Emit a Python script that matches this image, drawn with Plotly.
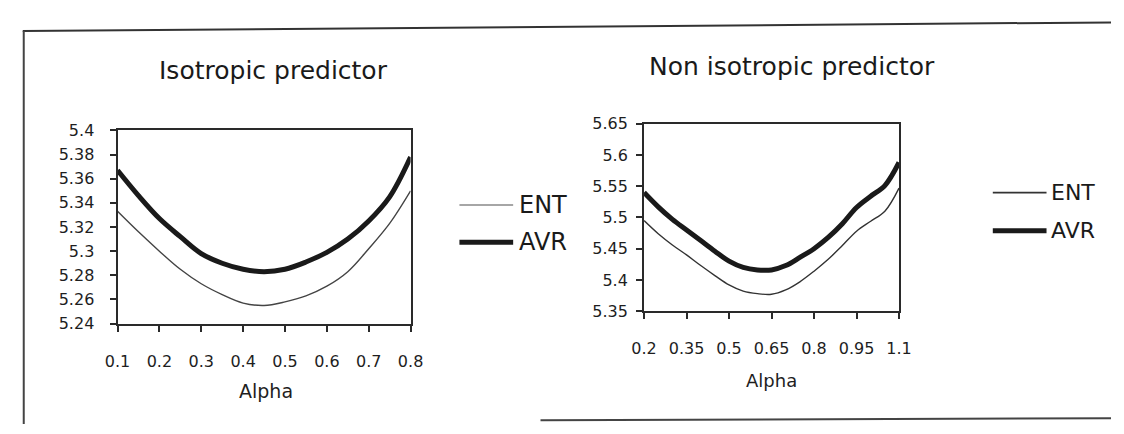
import plotly.graph_objects as go

# ---------------- data ----------------
alpha_iso = [0.1, 0.15, 0.2, 0.25, 0.3, 0.35, 0.4, 0.45, 0.5, 0.55, 0.6, 0.65, 0.7, 0.75, 0.8]
ent_iso = [5.333, 5.316, 5.300, 5.285, 5.273, 5.264, 5.257, 5.255, 5.258, 5.263, 5.271, 5.283, 5.302, 5.323, 5.350]
avr_iso = [5.367, 5.346, 5.327, 5.312, 5.298, 5.290, 5.285, 5.283, 5.285, 5.291, 5.299, 5.310, 5.325, 5.345, 5.378]

alpha_non = [0.2, 0.25, 0.3, 0.35, 0.4, 0.45, 0.5, 0.55, 0.6, 0.65, 0.7, 0.75, 0.8, 0.85, 0.9, 0.95, 1.0, 1.05, 1.1]
ent_non = [5.495, 5.474, 5.456, 5.440, 5.423, 5.407, 5.392, 5.382, 5.378, 5.377, 5.384, 5.397, 5.414, 5.433, 5.455, 5.478, 5.494, 5.510, 5.547]
avr_non = [5.540, 5.517, 5.497, 5.480, 5.463, 5.446, 5.430, 5.420, 5.416, 5.416, 5.423, 5.436, 5.450, 5.468, 5.490, 5.516, 5.534, 5.551, 5.588]

iso_xticks = [0.1, 0.2, 0.3, 0.4, 0.5, 0.6, 0.7, 0.8]
iso_yticks = [5.24, 5.26, 5.28, 5.3, 5.32, 5.34, 5.36, 5.38, 5.4]
non_xticks = [0.2, 0.35, 0.5, 0.65, 0.8, 0.95, 1.1]
non_yticks = [5.35, 5.4, 5.45, 5.5, 5.55, 5.6, 5.65]

titles = ["Isotropic predictor", "Non isotropic predictor"]
series_names = ["ENT", "AVR"]
x_title = "Alpha"

# ---------------- figure ----------------
W, H = 1124, 434
FONT = "DejaVu Sans, Verdana, sans-serif"
INK = "#2a2a2a"
TXT = "#1e1e1e"


def px(x):
    return x / W


def py(y):
    return 1 - y / H


fig = go.Figure()
fig.add_trace(go.Scatter(x=alpha_iso, y=ent_iso, mode="lines", line=dict(color="#444", width=1.4, shape="spline"),
                         xaxis="x", yaxis="y", showlegend=False))
fig.add_trace(go.Scatter(x=alpha_iso, y=avr_iso, mode="lines", line=dict(color="#1a1a1a", width=5, shape="spline"),
                         xaxis="x", yaxis="y", showlegend=False))
fig.add_trace(go.Scatter(x=alpha_non, y=ent_non, mode="lines", line=dict(color="#333", width=1.4, shape="spline"),
                         xaxis="x2", yaxis="y2", showlegend=False))
fig.add_trace(go.Scatter(x=alpha_non, y=avr_non, mode="lines", line=dict(color="#1a1a1a", width=5, shape="spline"),
                         xaxis="x2", yaxis="y2", showlegend=False))

axis_common = dict(showgrid=False, zeroline=False, showline=True, linecolor=INK, linewidth=2,
                   mirror=True, ticks="outside", ticklen=6, tickcolor=INK, tickwidth=1.5,
                   tickfont=dict(family=FONT, size=16, color=TXT))

fig.update_layout(
    width=W, height=H, margin=dict(l=0, r=0, t=0, b=0),
    paper_bgcolor="white", plot_bgcolor="white",
    xaxis=dict(domain=[px(107), px(407)], range=[0.1, 0.8], tickvals=iso_xticks,
               ticktext=[f"{v:g}" for v in iso_xticks], anchor="y", ticklabelstandoff=16, **axis_common),
    yaxis=dict(domain=[py(329), py(127)], range=[5.24, 5.4], tickvals=iso_yticks,
               ticktext=[f"{v:g}" for v in iso_yticks], anchor="x", ticklabelstandoff=12, **axis_common),
    xaxis2=dict(domain=[px(646), px(907)], range=[0.2, 1.1], tickvals=non_xticks,
                ticktext=[f"{v:g}" for v in non_xticks], anchor="y2", ticklabelstandoff=16, **axis_common),
    yaxis2=dict(domain=[py(316), py(120)], range=[5.35, 5.65], tickvals=non_yticks,
                ticktext=[f"{v:g}" for v in non_yticks], anchor="x2", ticklabelstandoff=5, **axis_common),
)

# titles
fig.add_annotation(x=px(267), y=py(64), xref="paper", yref="paper", text=titles[0], showarrow=False,
                   xanchor="center", yanchor="middle", font=dict(family=FONT, size=25, color="#1a1a1a"))
fig.add_annotation(x=px(797), y=py(60), xref="paper", yref="paper", text=titles[1], showarrow=False,
                   xanchor="center", yanchor="middle", font=dict(family=FONT, size=25, color="#1a1a1a"))

# x axis titles
fig.add_annotation(x=px(259), y=py(400), xref="paper", yref="paper", text=x_title, showarrow=False,
                   xanchor="center", yanchor="middle", font=dict(family=FONT, size=19, color=TXT))
fig.add_annotation(x=px(776), y=py(388), xref="paper", yref="paper", text=x_title, showarrow=False,
                   xanchor="center", yanchor="middle", font=dict(family=FONT, size=18, color=TXT))

# legends (drawn)
legend_specs = [
    (457, 512, 516, [205, 244], ["#888", "#1a1a1a"], 24),
    (1003, 1058, 1061, [192, 232], ["#333", "#1a1a1a"], 22),
]
for x0, x1, xt, ys, cols, fs in legend_specs:
    for name, yy, col, w in zip(series_names, ys, cols, [1.6, 5]):
        fig.add_shape(type="line", xref="paper", yref="paper", x0=px(x0), x1=px(x1), y0=py(yy), y1=py(yy),
                      line=dict(color=col, width=w))
        fig.add_annotation(x=px(xt), y=py(yy), xref="paper", yref="paper", text=name, showarrow=False,
                           xanchor="left", yanchor="middle", font=dict(family=FONT, size=fs, color="#1a1a1a"))

# outer frame (top, left, bottom-right pieces of the scanned box)
fig.add_shape(type="line", xref="paper", yref="paper", x0=px(10), x1=px(1124), y0=py(23), y1=py(14),
              line=dict(color="#333", width=2))
fig.add_shape(type="line", xref="paper", yref="paper", x0=px(11), x1=px(11), y0=py(23), y1=py(434),
              line=dict(color="#444", width=2))
fig.add_shape(type="line", xref="paper", yref="paper", x0=px(540), x1=px(1124), y0=py(430), y1=py(428),
              line=dict(color="#444", width=2))

fig.write_html("out.html")
